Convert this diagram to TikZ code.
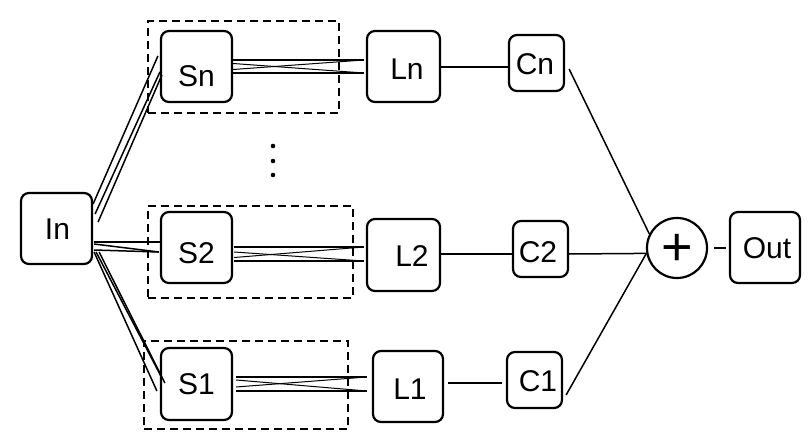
\documentclass[tikz,border=0pt]{standalone}
\usepackage{fontspec}
\setmainfont{Liberation Sans}
\usetikzlibrary{calc}
\begin{document}
\begin{tikzpicture}[x=1pt,y=-1pt,
  box/.style={draw, line width=2.2pt, rounded corners=8pt, inner sep=0pt},
  lbl/.style={font=\fontsize{30}{34}\selectfont, inner sep=0pt},
  grp/.style={draw, line width=1.4pt, dash pattern=on 8pt off 5pt, inner sep=0pt},
  wire/.style={line width=1.5pt},
  fine/.style={line width=1.0pt}]
\useasboundingbox[fill=white] (0,0) rectangle (812,447);

% dashed groups
\node[grp, minimum width=191pt, minimum height=92pt] (Gn) at (243.5,67) {};
\node[grp, minimum width=205pt, minimum height=92pt] (G2) at (250.5,252) {};
\node[grp, minimum width=204pt, minimum height=88pt] (G1) at (246,385) {};

% boxes
\node[box, minimum width=71pt, minimum height=71pt, label={[lbl, xshift=1pt, yshift=-1pt]center:In}] (In) at (56.5,228.5) {};
\node[box, minimum width=71pt, minimum height=71pt, label={[lbl, yshift=-9.5pt]center:Sn}] (Sn) at (196.5,66.5) {};
\node[box, minimum width=71pt, minimum height=71pt, label={[lbl, yshift=-5.5pt]center:S2}] (S2) at (196.5,247.5) {};
\node[box, minimum width=71pt, minimum height=72pt, label={[lbl]center:S1}] (S1) at (196.5,384) {};
\node[box, minimum width=73pt, minimum height=71pt, label={[lbl, xshift=3.5pt, yshift=-2.5pt]center:Ln}] (Ln) at (403.5,66.5) {};
\node[box, minimum width=73pt, minimum height=72pt, label={[lbl, xshift=8.5pt, yshift=-1pt]center:L2}] (L2) at (403.5,255) {};
\node[box, minimum width=70pt, minimum height=71pt, label={[lbl, xshift=2pt, yshift=-2.5pt]center:L1}] (L1) at (408,386.5) {};
\node[box, minimum width=55pt, minimum height=56pt, label={[lbl, xshift=-1.5pt, yshift=-1pt]center:Cn}] (Cn) at (536.5,63) {};
\node[box, minimum width=55pt, minimum height=56pt, label={[lbl, xshift=-2.5pt, yshift=-3pt]center:C2}] (C2) at (540.5,249) {};
\node[box, minimum width=55pt, minimum height=56pt, label={[lbl, xshift=3.5pt, yshift=-1pt]center:C1}] (C1) at (534.5,380) {};
\node[draw, circle, line width=2.2pt, minimum size=60pt, inner sep=0pt,
      label={[font=\fontsize{54}{54}\selectfont, inner sep=0pt, yshift=-2pt]center:+}] (plus) at (677,248) {};
\node[box, minimum width=70pt, minimum height=71pt, label={[lbl, xshift=2pt, yshift=-0.5pt]center:Out}] (Out) at (765,247.5) {};

% vertical dots
\fill (273,146) circle (2.3pt);
\fill (273,161) circle (2.3pt);
\fill (273,175) circle (2.3pt);

% In -> Sn
\draw[wire] ([shift={(0,-24.5)}]In.east) -- ([shift={(-2,-10.5)}]Sn.west);
\draw[wire] ([shift={(2,-14.5)}]In.east) -- ([shift={(0,5.5)}]Sn.west);
\draw[wire] ([shift={(5,-6.5)}]In.east) -- ([shift={(2,8.5)}]Sn.west);
% In -> S2
\draw[wire] ([shift={(1,13.5)}]In.east) -- ([shift={(2,-5.5)}]S2.west);
\draw[wire] ([shift={(1,15.5)}]In.east) -- ([shift={(-1,4.5)}]S2.west);
\draw[wire] ([shift={(1,21.5)}]In.east) -- ([shift={(-1,4.5)}]S2.west);
% In -> S1
\draw[wire] ([shift={(1,23.5)}]In.east) -- ([shift={(-3,7)}]S1.west);
\draw[wire] ([shift={(3,23.5)}]In.east) -- ([shift={(2,-6)}]S1.west);
\draw[wire] ([shift={(6,23.5)}]In.east) -- ([shift={(5,-1)}]S1.west);

% Sn -> Ln
\draw[wire] ([shift={(0,-6.5)}]Sn.east) -- ([shift={(-2,-6.5)}]Ln.west);
\draw[wire] ([shift={(0,6.5)}]Sn.east) -- ([shift={(-2,6.5)}]Ln.west);
\draw[fine] ([shift={(0,-3)}]Sn.east) -- ([shift={(-2,6.5)}]Ln.west);
\draw[fine] ([shift={(0,3)}]Sn.east) -- ([shift={(-2,-6.5)}]Ln.west);
% S2 -> L2
\draw[wire] ([shift={(1,-0.5)}]S2.east) -- ([shift={(-2,-8)}]L2.west);
\draw[wire] ([shift={(1,13.5)}]S2.east) -- ([shift={(-2,6)}]L2.west);
\draw[fine] ([shift={(1,4.5)}]S2.east) -- ([shift={(-2,6)}]L2.west);
\draw[fine] ([shift={(1,10)}]S2.east) -- ([shift={(-2,-8)}]L2.west);
% S1 -> L1
\draw[wire] ([shift={(3,-7)}]S1.east) -- ([shift={(-5,-9.5)}]L1.west);
\draw[wire] ([shift={(3,7)}]S1.east) -- ([shift={(-5,4.5)}]L1.west);
\draw[fine] ([shift={(3,-4)}]S1.east) -- ([shift={(-5,4.5)}]L1.west);
\draw[fine] ([shift={(3,3)}]S1.east) -- ([shift={(-5,-9.5)}]L1.west);

% L -> C
\draw[wire] ([shift={(0,0.5)}]Ln.east) -- ([shift={(0,0.5)}]Ln.east -| Cn.west);
\draw[wire] ([shift={(0,-1)}]L2.east) -- ([shift={(0,-1)}]L2.east -| C2.west);
\draw[wire] ([shift={(4,-3.5)}]L1.east) -- ([shift={(-4,-3.5)}]L1.east -| C1.west);

% C -> plus
\draw[wire] ([shift={(4,6)}]Cn.east) -- (plus.153);
\draw[wire] ([shift={(0,5)}]C2.east) -- (plus.190);
\draw[wire] ([shift={(3,15)}]C1.east) -- (plus.190);
% plus -> Out
\draw[wire] ([shift={(6,0)}]plus.east) -- ([shift={(-3,0)}]plus.east -| Out.west);
\end{tikzpicture}
\end{document}
